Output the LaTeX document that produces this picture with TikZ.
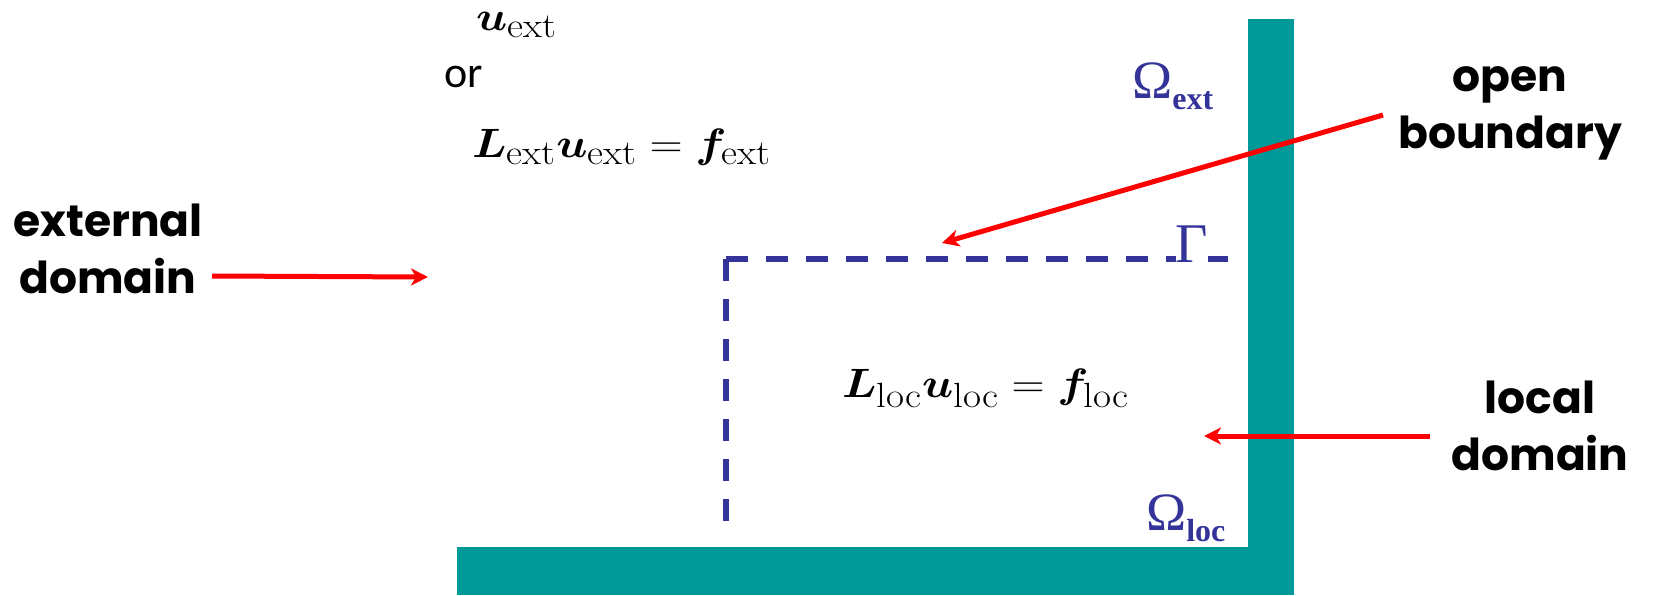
\RequirePackage{fix-cm}
\documentclass[tikz,border=0pt]{standalone}
\usepackage{amsmath}
\usepackage{bm}
\usepackage{graphicx}
\usepackage{fontspec}
\usetikzlibrary{arrows.meta}
\newfontfamily\comicf{Poppins}
\newfontfamily\carl{Carlito}
\newfontfamily\tms{Liberation Serif}
\newcommand{\msub}[1]{\text{\normalfont\fontsize{35}{35}\selectfont #1}}
\newcommand{\wideeq}[1]{\scalebox{1.12}[1]{#1}}
\definecolor{wallteal}{RGB}{0,153,153}
\definecolor{gblue}{RGB}{51,51,153}
\tikzset{
  wall/.style={fill=wallteal, draw=none},
  gdash/.style={draw=gblue, line width=6pt, dash pattern=on 22pt off 18pt, line cap=butt},
  redarrow/.style={draw=red, line width=5pt, -{Stealth[length=17pt,width=17pt,inset=5pt]}},
  lbl/.style={font=\comicf\bfseries\fontsize{44}{57}\selectfont, align=center, inner sep=0pt},
  eqn/.style={font=\fontsize{41}{48}\selectfont, inner sep=0pt},
  greek/.style={text=gblue, inner sep=0pt},
}
\begin{document}
\begin{tikzpicture}[x=1pt,y=-1pt]
\useasboundingbox (0,0) rectangle (1653,595);
% walls
\path[wall] (1248,19) rectangle (1294,595);
\path[wall] (457,547) rectangle (1294,595);
% dashed open boundary
\coordinate (corner) at (726,259);
\coordinate (bottomend) at (726,535);
\coordinate (rightend) at (1244,259);
\draw[gdash] (corner) -- (bottomend);
\draw[gdash] (corner) -- (rightend);
% greek labels
\node[greek, fill=white, font=\tms\fontsize{56}{60}\selectfont, anchor=base] (gamma) at (1192,262) {Γ};
\node[greek, anchor=base west] (omext) at (1132,98) {\tms\fontsize{54}{60}\selectfont Ω\raisebox{-11pt}{\bfseries\fontsize{32}{36}\selectfont ext}};
\node[greek, anchor=base west] (omloc) at (1146,530) {\tms\fontsize{54}{60}\selectfont Ω\raisebox{-11pt}{\bfseries\fontsize{32}{36}\selectfont loc}};
% equations
\node[eqn, anchor=base west] (uext) at (476,30) {\wideeq{$\bm{u}_{\msub{ext}}$}};
\node[inner sep=0pt, anchor=base west, font=\carl\fontsize{44}{50}\selectfont] (ortext) at (444,87) {or};
\node[eqn, anchor=base west] (eqext) at (472,157) {\wideeq{$\bm{L}_{\msub{ext}}\bm{u}_{\msub{ext}} = \bm{f}_{\msub{ext}}$}};
\node[eqn, anchor=base west] (eqloc) at (842,397) {\wideeq{$\bm{L}_{\msub{loc}}\bm{u}_{\msub{loc}} = \bm{f}_{\msub{loc}}$}};
% side labels
\node[lbl, anchor=base] (extlbl) at (108,293) {external\\domain};
\node[lbl, anchor=base] (openlbl) at (1510,148) {open\\boundary};
\node[lbl, anchor=base] (loclbl) at (1540,470) {local\\domain};
% arrows
\coordinate (extfrom) at (212,276);
\coordinate (extto) at (428,277);
\coordinate (openfrom) at (1383,115);
\coordinate (opento) at (942,243);
\coordinate (locfrom) at (1430,436);
\coordinate (locto) at (1204,436);
\draw[redarrow] (extfrom) -- (extto);
\draw[redarrow] (openfrom) -- (opento);
\draw[redarrow] (locfrom) -- (locto);
\end{tikzpicture}
\end{document}
